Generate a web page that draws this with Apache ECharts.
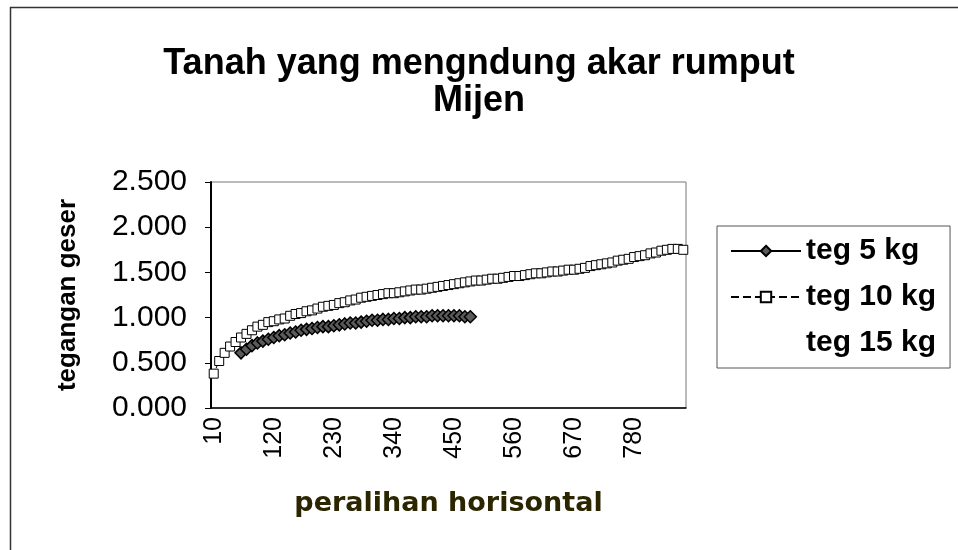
<!DOCTYPE html>
<html>
<head>
<meta charset="utf-8">
<script src="https://cdn.jsdelivr.net/npm/echarts@6/dist/echarts.min.js"></script>
<style>
  html, body { margin: 0; padding: 0; background: #fff; }
  #chart { width: 958px; height: 550px; }
</style>
</head>
<body>
<div id="chart"></div>
<script>
// peralihan horisontal: 10 .. 870, step 10
const categories = [
  '10','20','30','40','50','60','70','80','90','100',
  '110','120','130','140','150','160','170','180','190','200',
  '210','220','230','240','250','260','270','280','290','300',
  '310','320','330','340','350','360','370','380','390','400',
  '410','420','430','440','450','460','470','480','490','500',
  '510','520','530','540','550','560','570','580','590','600',
  '610','620','630','640','650','660','670','680','690','700',
  '710','720','730','740','750','760','770','780','790','800',
  '810','820','830','840','850','860','870'
]

// first points of teg 5 kg are not readable in the scan
const teg5 = [
  null, null, null, null, null, 0.61, 0.65, 0.69, 0.72, 0.74,
  0.76, 0.78, 0.80, 0.81, 0.83, 0.84, 0.86, 0.87, 0.88, 0.89,
  0.90, 0.90, 0.91, 0.92, 0.93, 0.94, 0.94, 0.95, 0.96, 0.97,
  0.97, 0.98, 0.98, 0.99, 0.99, 1.00, 1.00, 1.01, 1.01, 1.01,
  1.02, 1.02, 1.02, 1.02, 1.02, 1.02, 1.01, 1.01
]

const teg10 = [
  0.38, 0.52, 0.61, 0.68, 0.73, 0.78, 0.82, 0.86, 0.90, 0.92,
  0.95, 0.96, 0.98, 0.99, 1.02, 1.04, 1.05, 1.07, 1.08, 1.10,
  1.12, 1.13, 1.14, 1.16, 1.17, 1.19, 1.20, 1.22, 1.23, 1.24,
  1.25, 1.26, 1.27, 1.27, 1.28, 1.29, 1.30, 1.31, 1.31, 1.32,
  1.33, 1.34, 1.35, 1.36, 1.37, 1.38, 1.39, 1.40, 1.41, 1.41,
  1.42, 1.43, 1.43, 1.44, 1.45, 1.46, 1.46, 1.47, 1.48, 1.49,
  1.49, 1.50, 1.51, 1.51, 1.52, 1.53, 1.53, 1.54, 1.55, 1.57,
  1.58, 1.59, 1.60, 1.61, 1.63, 1.64, 1.65, 1.67, 1.68, 1.69,
  1.71, 1.72, 1.74, 1.75, 1.76, 1.76, 1.75
]

// teg 15 kg is not visible in the scan
const teg15 = []

const yTicks = { min: 0, max: 2.5, interval: 0.5 }

const FONT = '"Liberation Sans", Arial, sans-serif'

const chart = echarts.init(document.getElementById('chart'))

chart.setOption({
  animation: false,
  backgroundColor: '#fff',
  title: {
    text: 'Tanah yang mengndung akar rumput\nMijen',
    left: 'center',
    top: 41,
    textStyle: { fontFamily: FONT, fontSize: 36, fontWeight: 'bold', color: '#000', lineHeight: 37 },
  },
  graphic: [
    {
      type: 'rect',
      left: 8,
      top: 5,
      shape: { width: 980, height: 580 },
      style: { fill: 'none', stroke: '#333', lineWidth: 1.5 },
      silent: true,
    },
  ],
  legend: {
    orient: 'vertical',
    left: 717,
    top: 226,
    padding: [10, 14, 10, 13],
    itemGap: 16,
    itemWidth: 70,
    itemHeight: 13,
    borderColor: '#555',
    borderWidth: 1,
    data: ['teg 5 kg', 'teg 10 kg', 'teg 15 kg'],
    textStyle: { fontFamily: FONT, fontSize: 30, fontWeight: 'bold', color: '#000', lineHeight: 29 },
  },
  grid: { left: 211, right: 272, top: 182, bottom: 142, show: true, borderColor: '#777', borderWidth: 1 },
  xAxis: {
    type: 'category',
    data: categories,
    boundaryGap: true,
    name: 'peralihan horisontal',
    nameLocation: 'middle',
    nameGap: 82,
    nameTextStyle: { fontFamily: '"DejaVu Sans", sans-serif', fontSize: 27, fontWeight: 'bold', color: '#2b2600' },
    axisLine: { lineStyle: { color: '#000', width: 1.5 } },
    axisTick: { interval: 0, length: 5, lineStyle: { color: '#000' } },
    axisLabel: { interval: 10, rotate: 90, margin: 9, fontFamily: FONT, fontSize: 25, color: '#000' },
    splitLine: { show: false },
  },
  yAxis: {
    type: 'value',
    min: yTicks.min,
    max: yTicks.max,
    interval: yTicks.interval,
    name: 'tegangan geser',
    nameLocation: 'middle',
    nameGap: 130,
    nameTextStyle: { fontFamily: FONT, fontSize: 26, fontWeight: 'bold', color: '#000' },
    axisLine: { show: true, lineStyle: { color: '#000', width: 2 } },
    axisTick: { show: true, length: 6, lineStyle: { color: '#000' } },
    axisLabel: { margin: 24, fontFamily: FONT, fontSize: 30, color: '#000', formatter: v => v.toFixed(3) },
    splitLine: { show: false },
  },
  series: [
    {
      name: 'teg 5 kg',
      type: 'line',
      data: teg5,
      showAllSymbol: true,
      symbol: 'diamond',
      symbolSize: 12,
      lineStyle: { color: '#000', width: 1.5 },
      itemStyle: { color: '#5a5a5a', borderColor: '#000', borderWidth: 1.5 },
      z: 3,
    },
    {
      name: 'teg 10 kg',
      type: 'line',
      data: teg10,
      showAllSymbol: true,
      symbol: 'rect',
      symbolSize: 9,
      lineStyle: { color: '#000', width: 1, type: 'dashed' },
      itemStyle: { color: '#fff', borderColor: '#000', borderWidth: 1 },
      z: 2,
    },
    {
      name: 'teg 15 kg',
      type: 'line',
      data: teg15,
      symbol: 'none',
      lineStyle: { color: '#fff', width: 0, opacity: 0 },
      itemStyle: { color: 'rgba(0,0,0,0)' },
    },
  ],
})
</script>
</body>
</html>
